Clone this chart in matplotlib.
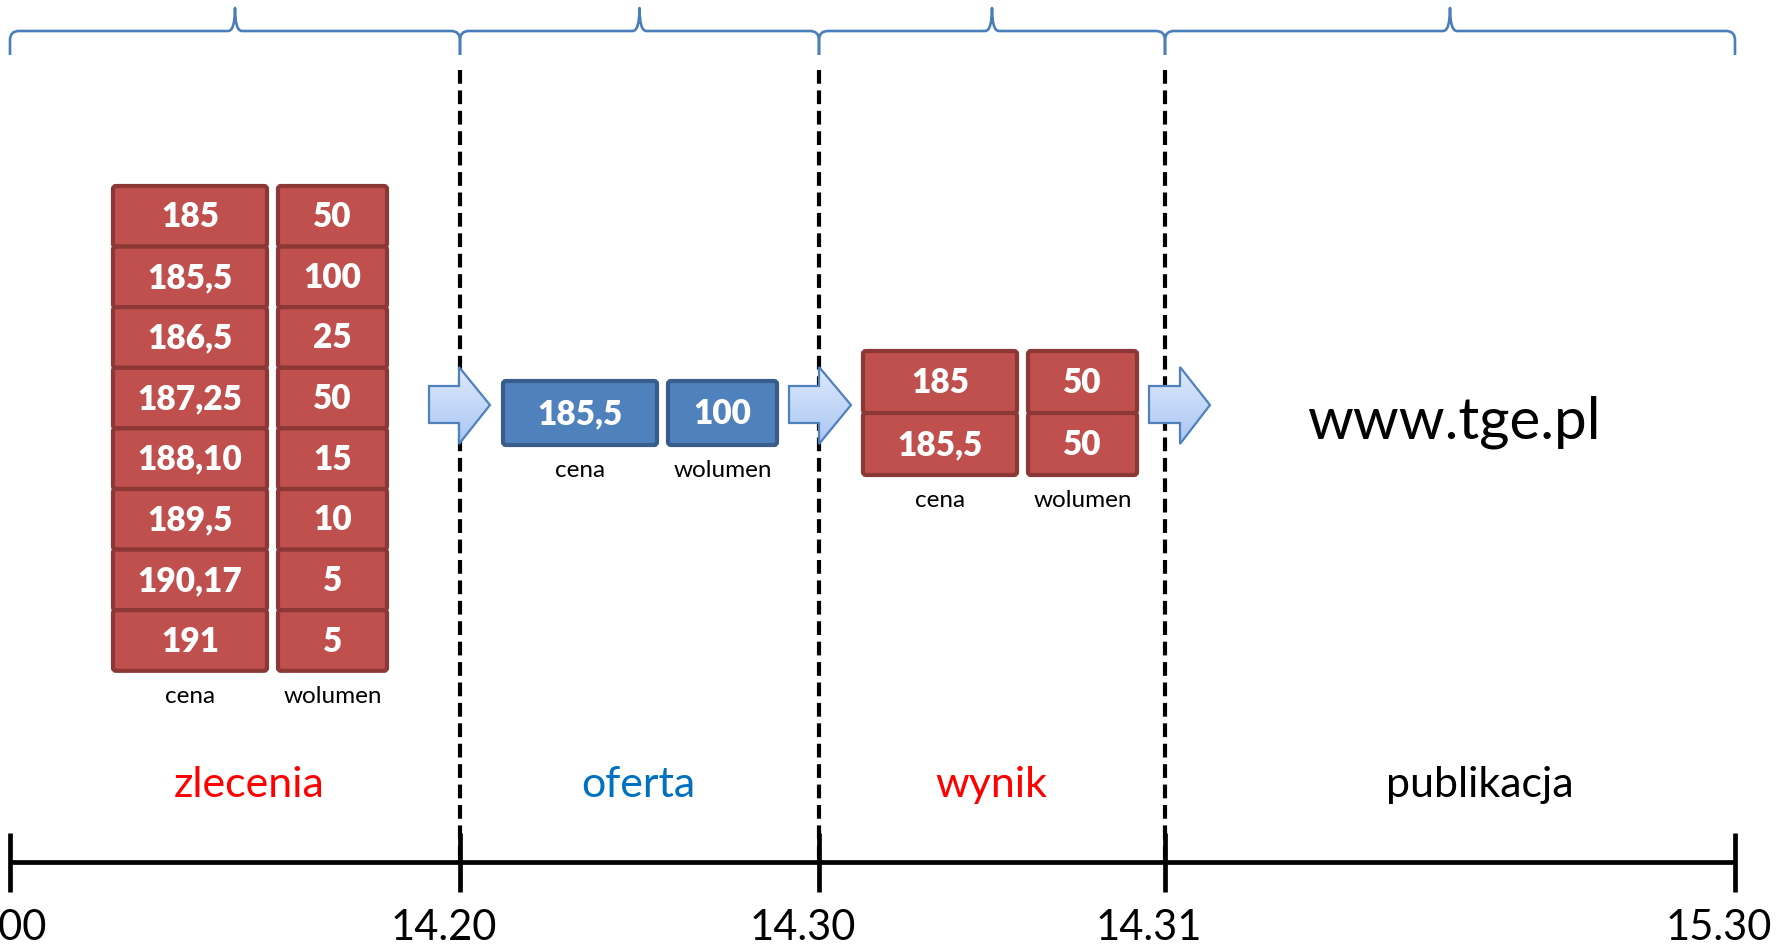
import numpy as np
import matplotlib
matplotlib.use("Agg")
import matplotlib.pyplot as plt
from matplotlib.path import Path
from matplotlib.patches import PathPatch, Polygon, FancyBboxPatch
from matplotlib.colors import LinearSegmentedColormap

plt.rcParams['font.family'] = ['Lato', 'DejaVu Sans']

# data
time_labels = ["14.00", "14.20", "14.30", "14.31", "15.30"]
section_names = ["zlecenia", "oferta", "wynik", "publikacja"]
section_colors = ["#ff0000", "#0070c0", "#ff0000", "#000000"]

zlecenia_cena = ["185", "185,5", "186,5", "187,25", "188,10", "189,5", "190,17", "191"]
zlecenia_wolumen = [50, 100, 25, 50, 15, 10, 5, 5]
oferta_cena = ["185,5"]
oferta_wolumen = [100]
wynik_cena = ["185", "185,5"]
wynik_wolumen = [50, 50]
site = "www.tge.pl"

# layout (pixels of a 1792x948 canvas)
W, H = 1792, 948
tick_x = [10, 460, 819, 1165, 1735]
line_y = 862

RED, RED_EDGE = "#c0504d", "#8c3836"
BLUE, BLUE_EDGE = "#4f81bd", "#385d8a"
BRACE = "#4a7ebb"

fig = plt.figure(figsize=(W / 100, H / 100), dpi=100)
ax = fig.add_axes([0, 0, 1, 1])
ax.axis("off")


def brace(x0, x1, ybase=31, yend=55, ytip=8, r=9):
    m = (x0 + x1) / 2
    verts = [(x0, yend), (x0, ybase + r), (x0, ybase), (x0 + r, ybase),
             (m - 7, ybase), (m, ybase), (m, ytip),
             (m, ybase), (m + 7, ybase),
             (x1 - r, ybase), (x1, ybase), (x1, ybase + r), (x1, yend)]
    codes = [Path.MOVETO, Path.LINETO, Path.CURVE3, Path.CURVE3,
             Path.LINETO, Path.CURVE3, Path.CURVE3,
             Path.CURVE3, Path.CURVE3,
             Path.LINETO, Path.CURVE3, Path.CURVE3, Path.LINETO]
    ax.add_patch(PathPatch(Path(verts, codes), fill=False, ec=BRACE, lw=1.9,
                           capstyle="butt", joinstyle="round"))


def cell(x0, x1, y0, y1, text, fc, ec):
    ax.add_patch(FancyBboxPatch((x0, y0), x1 - x0, y1 - y0,
                                boxstyle="round,pad=0,rounding_size=3",
                                fc=fc, ec=ec, lw=3.0, zorder=3))
    ax.text((x0 + x1) / 2, (y0 + y1) / 2 + 1, str(text), color="white",
            fontsize=24, fontweight="heavy", ha="center", va="center", zorder=4)


def table(col_x, top, row_h, cena, wolumen, fc, ec, label_y):
    for i, (c, w) in enumerate(zip(cena, wolumen)):
        y0 = top + i * row_h
        cell(col_x[0], col_x[1], y0, y0 + row_h, c, fc, ec)
        cell(col_x[2], col_x[3], y0, y0 + row_h, w, fc, ec)
    ax.text((col_x[0] + col_x[1]) / 2, label_y, "cena", fontsize=17.5,
            ha="center", va="baseline")
    ax.text((col_x[2] + col_x[3]) / 2, label_y, "wolumen", fontsize=17.5,
            ha="center", va="baseline")


grad = LinearSegmentedColormap.from_list("arr", ["#dfeafc", "#a9c6f3"])


def arrow(xs, xh, xt, yb0=386, yb1=423, yh0=367, yh1=444, yt=405):
    pts = [(xs, yb0), (xh, yb0), (xh, yh0), (xt, yt), (xh, yh1), (xh, yb1), (xs, yb1)]
    poly = Polygon(pts, closed=True, fc="none", ec="#4f81bd", lw=1.6, zorder=6,
                   joinstyle="miter")
    ax.add_patch(poly)
    img = ax.imshow(np.linspace(0, 1, 100).reshape(-1, 1), cmap=grad, aspect="auto",
                    extent=(xs, xt, yh1, yh0), zorder=5)
    img.set_clip_path(poly)


# braces on top
for a, b in zip(tick_x[:-1], tick_x[1:]):
    brace(a, b)

# dashed separators
for x in tick_x[1:-1]:
    ax.plot([x, x], [70, line_y], color="black", lw=3.0, dashes=(3.3, 1.6), zorder=1)

# timeline
ax.plot([tick_x[0], tick_x[-1]], [line_y, line_y], color="black", lw=3.4,
        solid_capstyle="butt", zorder=2)
for x, lab in zip(tick_x, time_labels):
    ax.plot([x, x], [833, 892], color="black", lw=3.4, solid_capstyle="butt", zorder=2)
    ax.text(x - 16, 940, lab, fontsize=30, ha="center", va="baseline")

# section names
section_x = [249, 638, 991, 1480]
for x, name, col in zip(section_x, section_names, section_colors):
    ax.text(x, 797, name, color=col, fontsize=31, ha="center", va="baseline")

# tables
table([113, 267, 278, 387], 186, 60.6, zlecenia_cena, zlecenia_wolumen,
      RED, RED_EDGE, 703)
table([503, 657, 668, 777], 381, 64, oferta_cena, oferta_wolumen,
      BLUE, BLUE_EDGE, 477)
table([863, 1017, 1028, 1137], 351, 62, wynik_cena, wynik_wolumen,
      RED, RED_EDGE, 507)

# arrows
arrow(429, 459, 490)
arrow(789, 819, 851)
arrow(1149, 1180, 1210)

ax.text(1454, 438, site, fontsize=42, ha="center", va="baseline")

ax.set_xlim(0, W)
ax.set_ylim(H, 0)

fig.savefig("out.png", dpi=100)
